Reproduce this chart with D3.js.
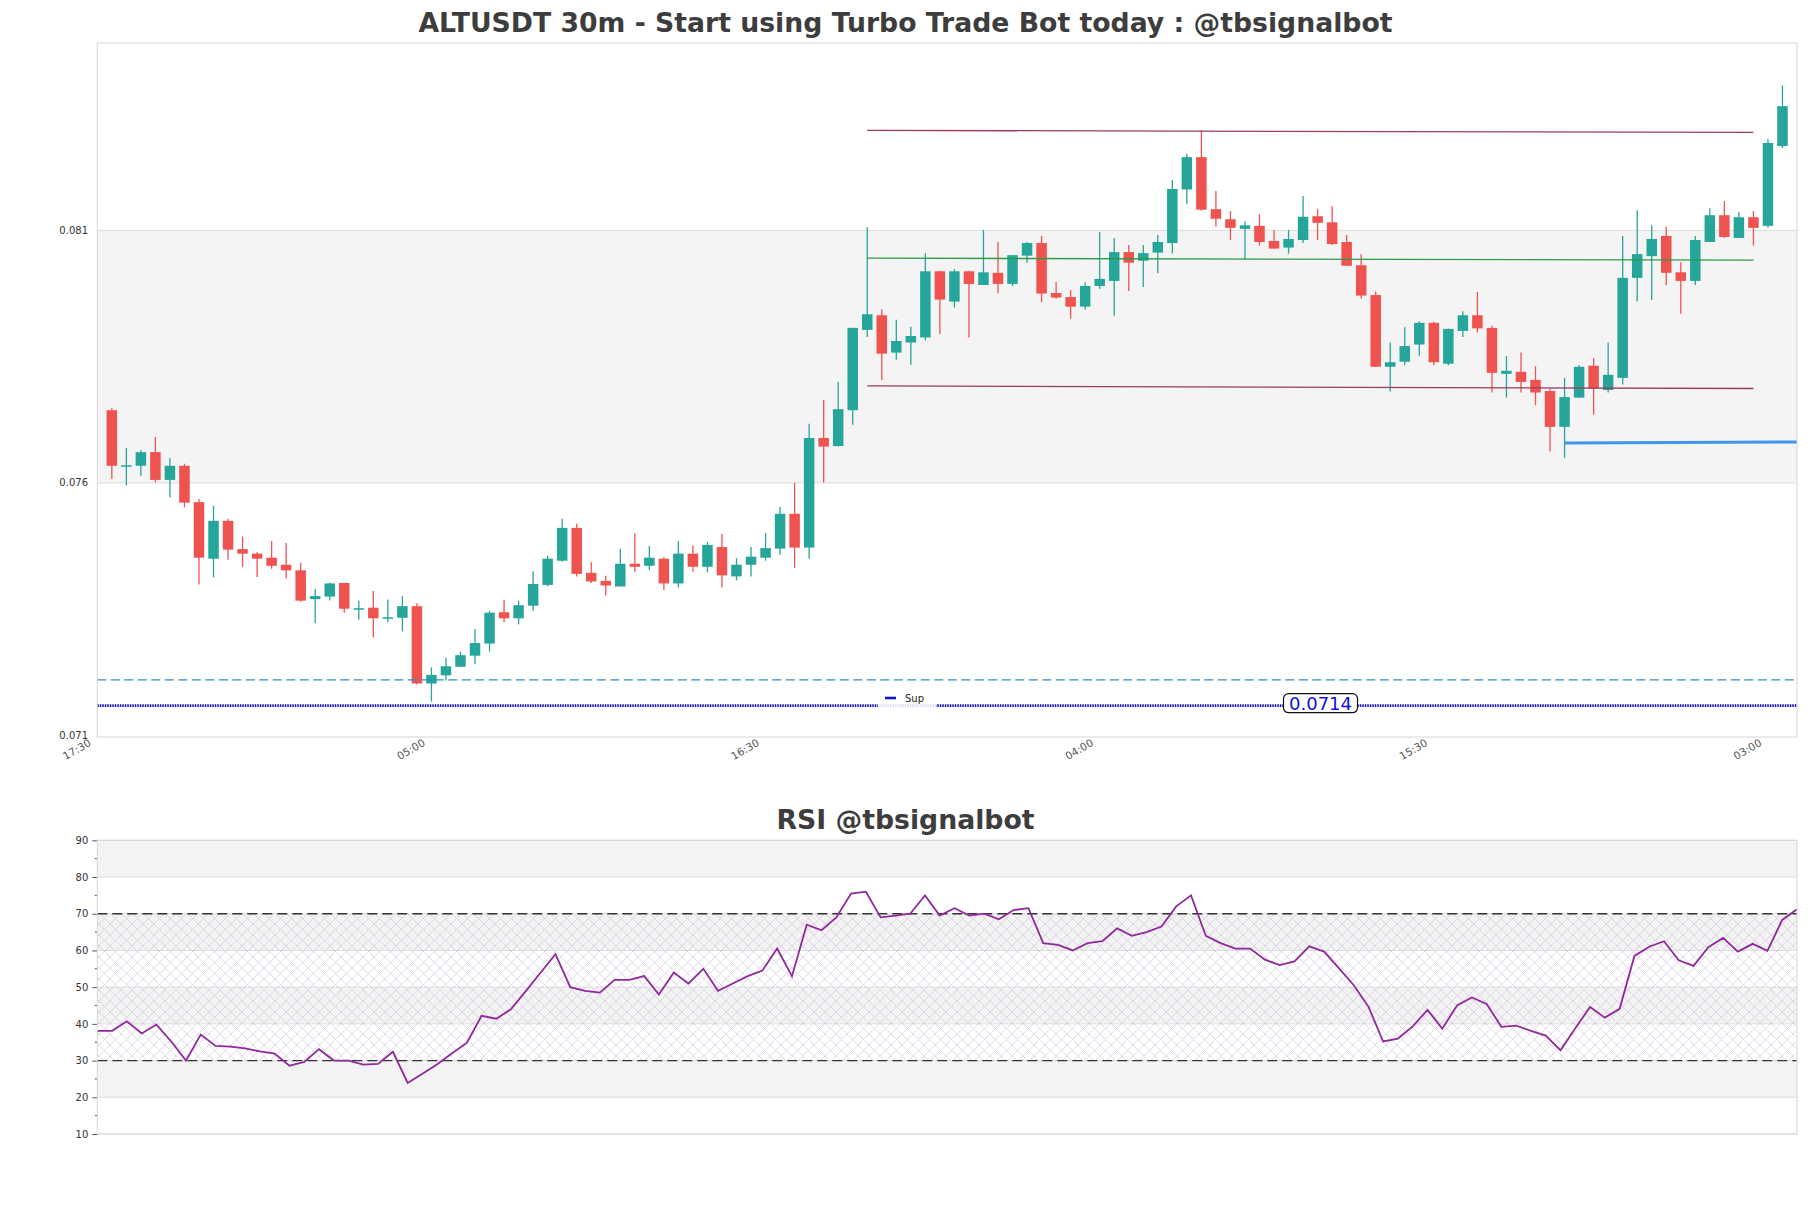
<!DOCTYPE html>
<html>
<head>
<meta charset="utf-8">
<title>ALTUSDT 30m</title>
<script src="https://d3js.org/d3.v7.min.js"></script>
<style>
body { margin: 0; background: #fff; }
text { font-family: "DejaVu Sans", sans-serif; }
</style>
</head>
<body>
<div id="chart"></div>
<script>
// candles, 30m, first one at 18:00
var opens = [0.07744,0.07632,0.07634,0.07661,0.07606,0.07634,0.07562,0.07450,0.07525,0.07469,
  0.07460,0.07452,0.07438,0.07427,0.07370,0.07375,0.07402,0.07350,0.07353,0.07332,
  0.07333,0.07356,0.07203,0.07219,0.07236,0.07258,0.07282,0.07344,0.07332,0.07357,
  0.07398,0.07446,0.07511,0.07422,0.07406,0.07395,0.07440,0.07436,0.07450,0.07401,
  0.07460,0.07434,0.07473,0.07415,0.07438,0.07452,0.07470,0.07539,0.07472,0.07689,
  0.07673,0.07744,0.07903,0.07932,0.07858,0.07878,0.07888,0.08019,0.07959,0.08019,
  0.07992,0.08016,0.07994,0.08050,0.08075,0.07976,0.07968,0.07949,0.07990,0.08000,
  0.08057,0.08040,0.08056,0.08075,0.08181,0.08245,0.08142,0.08122,0.08103,0.08109,
  0.08079,0.08066,0.08081,0.08128,0.08116,0.08077,0.08031,0.07972,0.07830,0.07840,
  0.07874,0.07917,0.07836,0.07901,0.07932,0.07907,0.07816,0.07820,0.07804,0.07782,
  0.07711,0.07769,0.07832,0.07784,0.07808,0.08006,0.08049,0.08089,0.08017,0.08000,
  0.08077,0.08130,0.08085,0.08126,0.08109,0.08267];
var highs = [0.07748,0.07669,0.07665,0.07691,0.07649,0.07638,0.07568,0.07555,0.07529,0.07494,
  0.07463,0.07485,0.07481,0.07442,0.07390,0.07403,0.07402,0.07367,0.07386,0.07369,
  0.07376,0.07362,0.07235,0.07254,0.07266,0.07311,0.07347,0.07368,0.07367,0.07425,
  0.07456,0.07529,0.07519,0.07443,0.07416,0.07469,0.07500,0.07475,0.07453,0.07485,
  0.07476,0.07483,0.07499,0.07451,0.07473,0.07501,0.07553,0.07600,0.07717,0.07764,
  0.07800,0.07907,0.08106,0.07944,0.07923,0.07909,0.08055,0.08020,0.08023,0.08020,
  0.08101,0.08077,0.08051,0.08077,0.08089,0.07998,0.07982,0.07997,0.08097,0.08085,
  0.08071,0.08071,0.08091,0.08200,0.08251,0.08298,0.08178,0.08138,0.08118,0.08132,
  0.08101,0.08101,0.08168,0.08142,0.08148,0.08091,0.08053,0.07979,0.07878,0.07908,
  0.07920,0.07919,0.07906,0.07940,0.07978,0.07911,0.07851,0.07858,0.07831,0.07787,
  0.07808,0.07833,0.07847,0.07878,0.08089,0.08140,0.08110,0.08107,0.08037,0.08089,
  0.08144,0.08158,0.08137,0.08138,0.08281,0.08387];
var lows = [0.07608,0.07595,0.07614,0.07601,0.07571,0.07552,0.07399,0.07413,0.07448,0.07434,
  0.07414,0.07430,0.07411,0.07365,0.07322,0.07367,0.07343,0.07329,0.07294,0.07324,
  0.07306,0.07201,0.07167,0.07209,0.07236,0.07241,0.07266,0.07324,0.07320,0.07347,
  0.07395,0.07444,0.07415,0.07402,0.07377,0.07395,0.07424,0.07427,0.07388,0.07393,
  0.07424,0.07423,0.07393,0.07407,0.07415,0.07446,0.07458,0.07432,0.07450,0.07601,
  0.07672,0.07715,0.07889,0.07804,0.07844,0.07834,0.07882,0.07895,0.07947,0.07888,
  0.07992,0.07975,0.07990,0.08036,0.07958,0.07965,0.07925,0.07943,0.07984,0.07931,
  0.07980,0.07988,0.08015,0.08054,0.08152,0.08139,0.08107,0.08081,0.08043,0.08070,
  0.08064,0.08054,0.08075,0.08081,0.08071,0.08030,0.07965,0.07830,0.07781,0.07833,
  0.07852,0.07833,0.07833,0.07889,0.07898,0.07779,0.07769,0.07779,0.07754,0.07662,
  0.07650,0.07768,0.07735,0.07779,0.07795,0.07959,0.07962,0.07992,0.07935,0.07992,
  0.08077,0.08085,0.08085,0.08070,0.08105,0.08263];
var closes = [0.07634,0.07635,0.07661,0.07606,0.07634,0.07561,0.07452,0.07525,0.07468,0.07460,
  0.07450,0.07436,0.07427,0.07367,0.07376,0.07401,0.07351,0.07352,0.07332,0.07334,
  0.07356,0.07203,0.07220,0.07237,0.07259,0.07283,0.07343,0.07332,0.07358,0.07400,
  0.07450,0.07511,0.07420,0.07405,0.07397,0.07440,0.07434,0.07452,0.07401,0.07460,
  0.07434,0.07477,0.07417,0.07438,0.07454,0.07471,0.07539,0.07472,0.07689,0.07672,
  0.07746,0.07907,0.07934,0.07856,0.07881,0.07891,0.08019,0.07963,0.08019,0.07994,
  0.08017,0.07994,0.08051,0.08075,0.07975,0.07967,0.07949,0.07990,0.08004,0.08057,
  0.08036,0.08055,0.08077,0.08182,0.08245,0.08141,0.08123,0.08105,0.08110,0.08077,
  0.08064,0.08083,0.08127,0.08115,0.08073,0.08030,0.07971,0.07830,0.07839,0.07871,
  0.07917,0.07839,0.07905,0.07932,0.07906,0.07818,0.07822,0.07800,0.07779,0.07711,
  0.07770,0.07830,0.07787,0.07814,0.08006,0.08053,0.08083,0.08016,0.08000,0.08081,
  0.08130,0.08087,0.08126,0.08105,0.08273,0.08346];
var rsi = [38.1,38.1,40.7,37.4,39.8,35.2,30.0,37.1,34.0,33.8,
  33.3,32.5,31.9,28.6,29.6,33.1,30.0,30.0,28.9,29.1,
  32.4,23.9,26.4,29.0,32.0,34.8,42.2,41.4,44.0,49.0,
  54.0,59.0,50.0,49.0,48.5,52.0,52.0,53.0,48.0,54.0,
  51.0,55.0,49.0,51.0,53.0,54.5,60.5,53.0,67.0,65.5,
  69.0,75.5,76.0,69.0,69.5,70.0,75.0,69.5,71.5,69.5,
  70.0,68.5,71.0,71.5,62.0,61.5,60.0,62.0,62.5,66.0,
  64.0,65.0,66.5,72.0,75.0,64.0,62.0,60.5,60.5,57.5,
  56.0,57.0,61.1,59.7,55.2,50.6,44.7,35.2,36.0,39.3,
  43.8,38.7,45.0,47.2,45.4,39.2,39.5,38.1,36.8,32.8,
  38.8,44.6,41.7,44.1,58.5,61.0,62.5,57.3,55.8,60.9,
  63.4,59.7,61.8,59.9,68.3,71.2];

var priceTicks = [0.071, 0.076, 0.081];
var priceBand = [0.076, 0.081];
var timeTickLabels = ["17:30", "05:00", "16:30", "04:00", "15:30", "03:00"];
var rsiTicks = [10, 20, 30, 40, 50, 60, 70, 80, 90];
var rsiMinor = [15, 25, 35, 45, 55, 65, 75, 85];
var rsiGreyBands = [[80, 90], [60, 70], [40, 50], [20, 30]];
var rsiLevels = [30, 70];

// drawn levels: [start candle, end candle, start value, end value]
var resTop = [52, 113, 0.08298, 0.08294];
var resLow = [52, 113, 0.07792, 0.07787];
var midLevel = [52, 113, 0.08045, 0.08041];
var blueLevel = [100, 116, 0.07679, 0.07681];
var dashLevel = 0.07210;
var supLevel = 0.07159;
var supText = "0.0714";
var legendText = "Sup";

var W = 1811, H = 1208;
var svg = d3.select('#chart').append('svg')
    .attr('width', W)
    .attr('height', H);

var firstCandle = new Date(2024, 0, 1, 18, 0);
function t(i) { return d3.timeMinute.offset(firstCandle, 30 * i); }

var m = {left: 97.3, right: 1797, top: 43, bottom: 737};
var x = d3.scaleTime().domain([t(-1), t(116)]).range([m.left, m.right]);
var y = d3.scaleLinear().domain([0.07097, 0.08471]).range([m.bottom, m.top]);

var gMain = svg.append('g');

gMain.append('rect')
    .attr('x', m.left).attr('width', m.right - m.left)
    .attr('y', y(priceBand[1])).attr('height', y(priceBand[0]) - y(priceBand[1]))
    .attr('fill', '#f4f4f4');

gMain.selectAll('line.grid').data(priceBand).enter().append('line')
    .attr('x1', m.left).attr('x2', m.right)
    .attr('y1', function(d) { return y(d); }).attr('y2', function(d) { return y(d); })
    .attr('stroke', '#dcdcdc').attr('stroke-width', 1);

gMain.selectAll('text.ytick').data(priceTicks).enter().append('text')
    .attr('x', 88).attr('y', function(d) { return y(d); }).attr('dy', '0.35em')
    .attr('text-anchor', 'end').attr('font-size', 10).attr('fill', '#333')
    .text(function(d) { return d3.format('.3f')(d); });

var tickTimes = timeTickLabels.map(function(l, k) { return d3.timeMinute.offset(t(-1), 690 * k); });
gMain.selectAll('text.xtick').data(tickTimes).enter().append('text')
    .attr('transform', function(d) { return 'translate(' + (x(d) - 5.5) + ',745) rotate(-30)'; })
    .attr('text-anchor', 'end').attr('font-size', 10.5).attr('fill', '#555')
    .text(function(d, i) { return timeTickLabels[i]; });

// candles
var idx = d3.range(opens.length);
var bw = 10.5;
var candles = gMain.selectAll('g.candle').data(idx).enter().append('g');
candles.append('line')
    .attr('x1', function(i) { return x(t(i)); }).attr('x2', function(i) { return x(t(i)); })
    .attr('y1', function(i) { return y(highs[i]); }).attr('y2', function(i) { return y(lows[i]); })
    .attr('stroke', function(i) { return closes[i] >= opens[i] ? '#26a69a' : '#ef5350'; })
    .attr('stroke-width', 1.3);
candles.append('rect')
    .attr('x', function(i) { return x(t(i)) - bw / 2; })
    .attr('width', bw)
    .attr('y', function(i) { return y(Math.max(opens[i], closes[i])); })
    .attr('height', function(i) { return Math.max(1.5, Math.abs(y(opens[i]) - y(closes[i]))); })
    .attr('fill', function(i) { return closes[i] >= opens[i] ? '#26a69a' : '#ef5350'; });

// levels
function level(l, color, w) {
    gMain.append('line')
        .attr('x1', x(t(l[0]))).attr('x2', Math.min(m.right, x(t(l[1]))))
        .attr('y1', y(l[2])).attr('y2', y(l[3]))
        .attr('stroke', color).attr('stroke-width', w);
}
level(resTop, '#993a64', 1.3);
level(resLow, '#993a64', 1.3);
level(midLevel, '#2f9a48', 1.3);
level(blueLevel, '#4096ee', 3);

gMain.append('line')
    .attr('x1', m.left).attr('x2', m.right)
    .attr('y1', y(dashLevel)).attr('y2', y(dashLevel))
    .attr('stroke', '#2b8fce').attr('stroke-width', 1.3).attr('stroke-dasharray', '9,4.5');
gMain.append('line')
    .attr('x1', m.left).attr('x2', m.right)
    .attr('y1', y(supLevel)).attr('y2', y(supLevel))
    .attr('stroke', '#1010c0').attr('stroke-width', 2.8).attr('stroke-dasharray', '1.5,1');

// legend
gMain.append('rect').attr('x', 878).attr('y', 688).attr('width', 58).attr('height', 23)
    .attr('fill', '#fff').attr('opacity', 0.85);
gMain.append('line').attr('x1', 885).attr('x2', 896).attr('y1', 698).attr('y2', 698)
    .attr('stroke', '#1414c8').attr('stroke-width', 2.6);
gMain.append('text').attr('x', 905).attr('y', 698).attr('dy', '0.35em')
    .attr('font-size', 10).attr('fill', '#222').text(legendText);

// price label
var lx = x(t(83.2)), ly = y(supLevel) - 2.5;
gMain.append('rect').attr('x', lx - 37).attr('y', ly - 9.5).attr('width', 74).attr('height', 19)
    .attr('rx', 5).attr('fill', '#fff').attr('stroke', '#111').attr('stroke-width', 1.2);
gMain.append('text').attr('x', lx).attr('y', ly).attr('dy', '0.36em')
    .attr('text-anchor', 'middle').attr('font-size', 18).attr('fill', '#1010e0').text(supText);

gMain.append('rect')
    .attr('x', m.left).attr('y', m.top).attr('width', m.right - m.left).attr('height', m.bottom - m.top)
    .attr('fill', 'none').attr('stroke', '#d6d6d6').attr('stroke-width', 1);

svg.append('text').attr('x', W / 2).attr('y', 32).attr('text-anchor', 'middle')
    .attr('font-size', 26.7).attr('font-weight', 'bold').attr('fill', '#3d3d3d')
    .text('ALTUSDT 30m - Start using Turbo Trade Bot today : @tbsignalbot');

// RSI panel
var r = {left: 97.3, right: 1797, top: 840.3, bottom: 1134};
var xr = d3.scaleLinear().domain([0, rsi.length - 1]).range([r.left, r.right]);
var yr = d3.scaleLinear().domain([10, 90]).range([r.bottom, r.top]);
var gR = svg.append('g');

var defs = svg.append('defs');
var pat = defs.append('pattern').attr('id', 'hatch').attr('patternUnits', 'userSpaceOnUse')
    .attr('width', 11).attr('height', 11);
pat.append('path').attr('d', 'M0,0L11,11M11,0L0,11')
    .attr('stroke', '#c8b6d4').attr('stroke-width', 0.7).attr('opacity', 0.7);

gR.selectAll('rect.band').data(rsiGreyBands).enter().append('rect')
    .attr('x', r.left).attr('width', r.right - r.left)
    .attr('y', function(d) { return yr(d[1]); })
    .attr('height', function(d) { return yr(d[0]) - yr(d[1]); })
    .attr('fill', '#f3f3f4');
gR.selectAll('line.grid').data(rsiTicks).enter().append('line')
    .attr('x1', r.left).attr('x2', r.right)
    .attr('y1', function(d) { return yr(d); }).attr('y2', function(d) { return yr(d); })
    .attr('stroke', '#dedede').attr('stroke-width', 1);
gR.append('rect')
    .attr('x', r.left).attr('width', r.right - r.left)
    .attr('y', yr(rsiLevels[1])).attr('height', yr(rsiLevels[0]) - yr(rsiLevels[1]))
    .attr('fill', 'url(#hatch)');
gR.selectAll('line.lvl').data(rsiLevels).enter().append('line')
    .attr('x1', r.left).attr('x2', r.right)
    .attr('y1', function(d) { return yr(d); }).attr('y2', function(d) { return yr(d); })
    .attr('stroke', '#333').attr('stroke-width', 1.3).attr('stroke-dasharray', '10,5');

gR.append('path').datum(rsi)
    .attr('d', d3.line().x(function(d, i) { return xr(i); }).y(function(d) { return yr(d); }))
    .attr('fill', 'none').attr('stroke', '#8e2a9a').attr('stroke-width', 1.8);

var ax = gR.append('g').attr('transform', 'translate(' + r.left + ',0)')
    .call(d3.axisLeft(yr).tickValues(rsiTicks).tickSize(5).tickPadding(4));
ax.select('.domain').remove();
ax.selectAll('line').attr('stroke', '#555');
ax.selectAll('text').attr('font-size', 10).attr('fill', '#333').attr('font-family', 'DejaVu Sans');
gR.selectAll('line.minor').data(rsiMinor).enter().append('line')
    .attr('x1', r.left - 2.5).attr('x2', r.left)
    .attr('y1', function(d) { return yr(d); }).attr('y2', function(d) { return yr(d); })
    .attr('stroke', '#555');

gR.append('rect')
    .attr('x', r.left).attr('y', r.top).attr('width', r.right - r.left).attr('height', r.bottom - r.top)
    .attr('fill', 'none').attr('stroke', '#d6d6d6').attr('stroke-width', 1);

svg.append('text').attr('x', W / 2).attr('y', 829).attr('text-anchor', 'middle')
    .attr('font-size', 26.7).attr('font-weight', 'bold').attr('fill', '#3d3d3d')
    .text('RSI @tbsignalbot');
</script>
</body>
</html>
